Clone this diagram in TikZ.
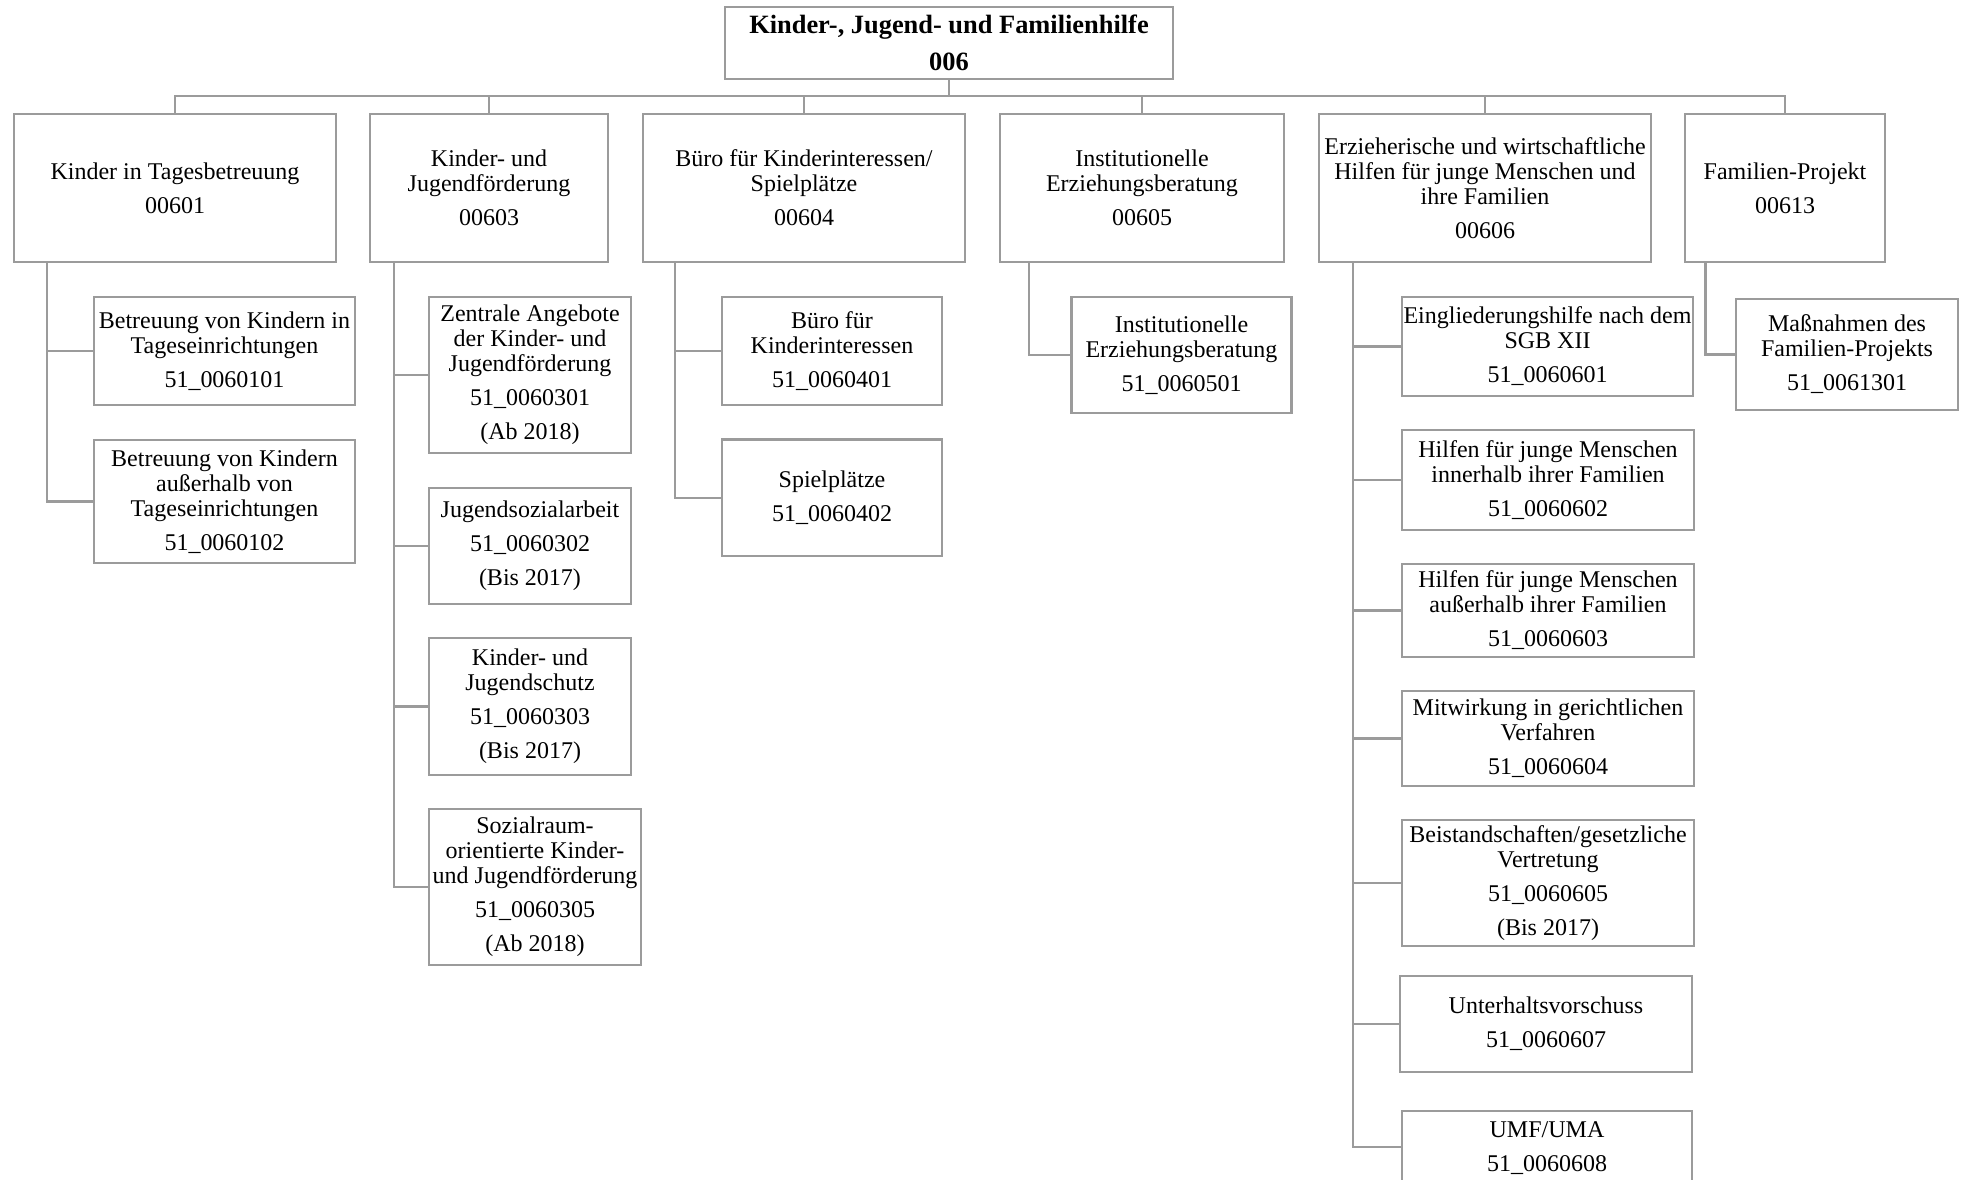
\documentclass[tikz,border=0pt]{standalone}
\usepackage{fontspec}
\setmainfont{Liberation Serif}
\definecolor{lg}{RGB}{155,155,155}
\tikzset{
  box/.style={draw=lg, line width=2.2pt, inner sep=0pt, outer sep=0pt, align=center,
    font=\fontsize{24}{25}\selectfont, text=black},
  conn/.style={draw=lg, line width=2.2pt},
}
\newcommand{\pg}{\\[9pt]}
\begin{document}
\begin{tikzpicture}[x=1pt,y=-1pt]
\useasboundingbox (0,0) rectangle (1966,1180);
\clip (0,0) rectangle (1966,1180);
% top
\node[box, minimum width=448, minimum height=72, font=\bfseries\fontsize{26.4}{28}\selectfont] (T) at (949,43)
  {Kinder-, Jugend- und Familienhilfe\\[9.6pt]006};
% level 1
\node[box, minimum width=322, minimum height=148] (B1) at (175,188) {Kinder in Tagesbetreuung\pg 00601};
\node[box, minimum width=238, minimum height=148] (B3) at (489,188) {Kinder- und\\Jugendförderung\pg 00603};
\node[box, minimum width=322, minimum height=148] (B4) at (804,188) {Büro für Kinderinteressen/\\Spielplätze\pg 00604};
\node[box, minimum width=284, minimum height=148] (B5) at (1142,188) {Institutionelle\\Erziehungsberatung\pg 00605};
\node[box, minimum width=332, minimum height=148] (B6) at (1485,188) {Erzieherische und wirtschaftliche\\Hilfen für junge Menschen und\\ihre Familien\pg 00606};
\node[box, minimum width=200, minimum height=148] (B13) at (1785,188) {Familien-Projekt\pg 00613};
% bus
\coordinate (bus) at (949,96);
\draw[conn] (T.south) -- (bus);
\foreach \b in {B1,B3,B4,B5,B6,B13} \draw[conn] (bus) -| (\b.north);
% trunks
\coordinate (t1) at (47,0);
\coordinate (t3) at (394,0);
\coordinate (t4) at (675,0);
\coordinate (t5) at (1029,0);
\coordinate (t6) at (1353,0);
\coordinate (t13) at (1705.5,0);
% children of B1
\node[box, minimum width=261, minimum height=108] (C0101) at (224.5,351) {Betreuung von Kindern in\\Tageseinrichtungen\pg 51\_0060101};
\node[box, minimum width=261, minimum height=123] (C0102) at (224.5,501.5) {Betreuung von Kindern\\außerhalb von\\Tageseinrichtungen\pg 51\_0060102};
% children of B3
\node[box, minimum width=202, minimum height=156] (C0301) at (530,375) {Zentrale Angebote\\der Kinder- und\\Jugendförderung\pg 51\_0060301\pg (Ab 2018)};
\node[box, minimum width=202, minimum height=116] (C0302) at (530,546) {Jugendsozialarbeit\pg 51\_0060302\pg (Bis 2017)};
\node[box, minimum width=202, minimum height=137] (C0303) at (530,706.5) {Kinder- und\\Jugendschutz\pg 51\_0060303\pg (Bis 2017)};
\node[box, minimum width=212, minimum height=156] (C0305) at (535,887) {Sozialraum-\\orientierte Kinder-\\und Jugendförderung\pg 51\_0060305\pg (Ab 2018)};
% children of B4
\node[box, minimum width=219.4, minimum height=108] (C0401) at (832,351) {Büro für\\Kinderinteressen\pg 51\_0060401};
\node[box, minimum width=219.4, minimum height=116.6] (C0402) at (832,497.7) {Spielplätze\pg 51\_0060402};
% children of B5
\node[box, minimum width=220, minimum height=116] (C0501) at (1181.5,355) {Institutionelle\\Erziehungsberatung\pg 51\_0060501};
% children of B6
\node[box, minimum width=291, minimum height=99] (C0601) at (1547.5,346.5) {Eingliederungshilfe nach dem\\SGB XII\pg 51\_0060601};
\node[box, minimum width=292, minimum height=100] (C0602) at (1548,480) {Hilfen für junge Menschen\\innerhalb ihrer Familien\pg 51\_0060602};
\node[box, minimum width=292, minimum height=93] (C0603) at (1548,610.5) {Hilfen für junge Menschen\\außerhalb ihrer Familien\pg 51\_0060603};
\node[box, minimum width=292, minimum height=95] (C0604) at (1548,738.5) {Mitwirkung in gerichtlichen\\Verfahren\pg 51\_0060604};
\node[box, minimum width=292, minimum height=126] (C0605) at (1548,883) {Beistandschaften/gesetzliche\\Vertretung\pg 51\_0060605\pg (Bis 2017)};
\node[box, minimum width=292, minimum height=96] (C0607) at (1546,1024) {Unterhaltsvorschuss\pg 51\_0060607};
\node[box, minimum width=290, minimum height=110] (C0608) at (1547,1166) {UMF/UMA\pg 51\_0060608\pg \phantom{(Ab 2018)}};
\coordinate (c0608in) at (1402,1147);
% children of B13
\node[box, minimum width=222, minimum height=111] (C1301) at (1847,354.5) {Maßnahmen des\\Familien-Projekts\pg 51\_0061301};
% connectors
\foreach \c in {C0101,C0102} \draw[conn] (B1.south -| t1) |- (\c.west);
\foreach \c in {C0301,C0302,C0303,C0305} \draw[conn] (B3.south -| t3) |- (\c.west);
\foreach \c in {C0401,C0402} \draw[conn] (B4.south -| t4) |- (\c.west);
\draw[conn] (B5.south -| t5) |- (C0501.west);
\foreach \c in {C0601,C0602,C0603,C0604,C0605,C0607} \draw[conn] (B6.south -| t6) |- (\c.west);
\draw[conn] (B6.south -| t6) |- (c0608in);
\draw[conn] (B13.south -| t13) |- (C1301.west);
\end{tikzpicture}
\end{document}
